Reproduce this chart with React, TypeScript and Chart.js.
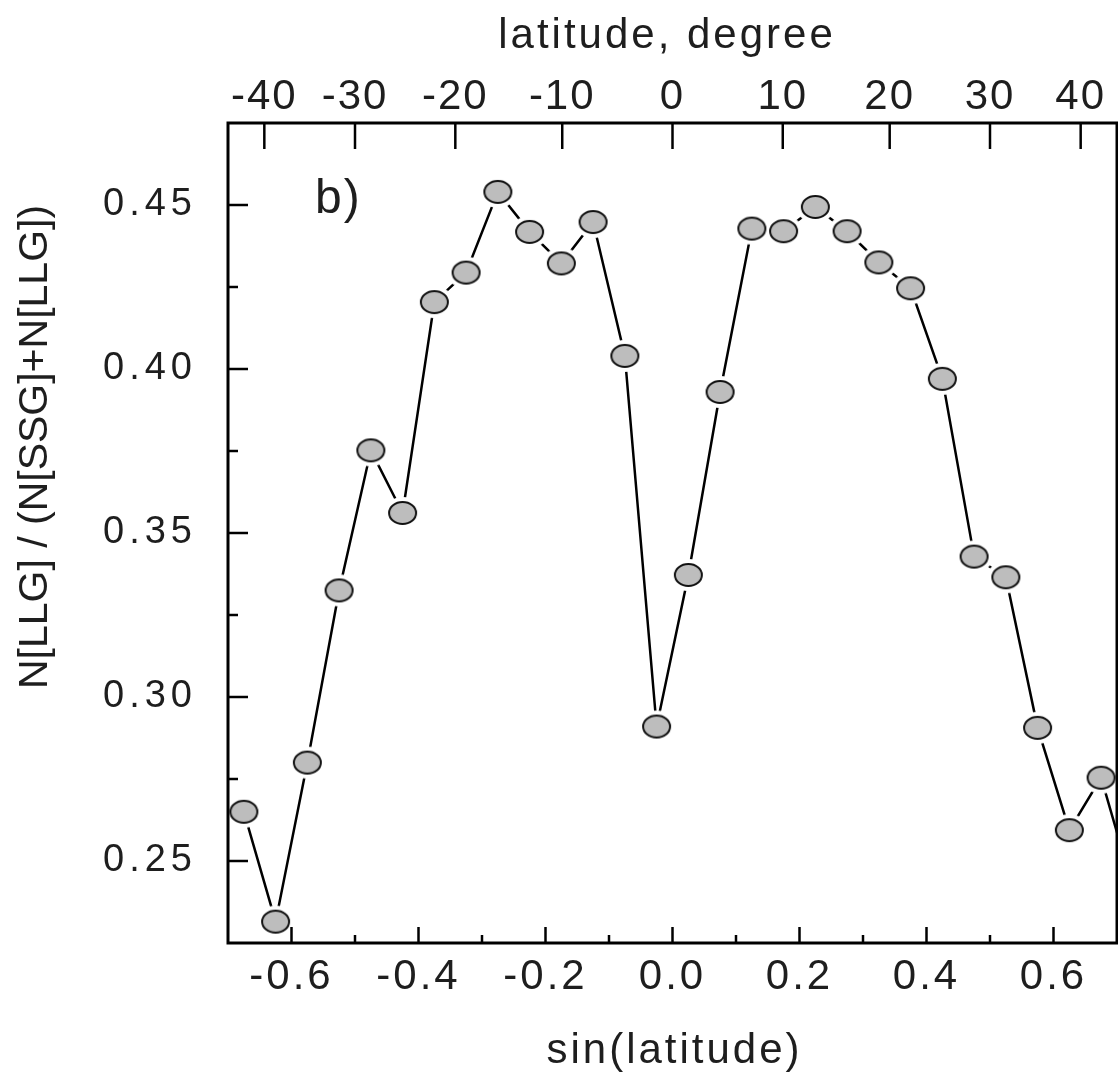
import React, { useEffect, useRef } from "react";
import { Chart, registerables } from "chart.js";

Chart.register(...registerables);

// ---- data ----
const sinLatitude = [
  -0.675, -0.625, -0.575, -0.525, -0.475, -0.425, -0.375, -0.325, -0.275, -0.225,
  -0.175, -0.125, -0.075, -0.025, 0.025, 0.075, 0.125, 0.175, 0.225, 0.275,
  0.325, 0.375, 0.425, 0.475, 0.525, 0.575, 0.625, 0.675, 0.725,
];
const llgFraction = [
  0.265, 0.2315, 0.28, 0.3325, 0.3752, 0.3561, 0.4204, 0.4294, 0.454, 0.4418,
  0.4322, 0.4448, 0.404, 0.291, 0.3372, 0.393, 0.4428, 0.442, 0.4494, 0.442,
  0.4325, 0.4246, 0.397, 0.3428, 0.3365, 0.2906, 0.2594, 0.2754, 0.242,
];
const sinTicks = [-0.6, -0.4, -0.2, 0.0, 0.2, 0.4, 0.6];
const sinMinorTicks = [-0.5, -0.3, -0.1, 0.1, 0.3, 0.5];
const latitudeTicks = [-40, -30, -20, -10, 0, 10, 20, 30, 40];
const ratioTicks = [0.25, 0.3, 0.35, 0.4, 0.45];
const ratioMinorTicks = [0.275, 0.325, 0.375, 0.425];
const xTitle = "sin(latitude)";
const topTitle = "latitude, degree";
const yTitle = "N[LLG] / (N[SSG]+N[LLG])";
const panelLabel = "b)";

const FONT = '"Liberation Sans", Arial, Helvetica, sans-serif';
const TEXT = "#1e1e1e";

const spacingByScale: Record<string, string> = { x: "3px", xTop: "2px", y: "5px" };

const tickSpacingPlugin = {
  id: "tickSpacing",
  beforeDraw(chart: any) {
    Object.values(chart.scales).forEach((scale: any) => {
      if (scale.__patched) return;
      const orig = scale.drawLabels;
      scale.drawLabels = function (area: any) {
        const ctx = this.ctx;
        const prev = ctx.letterSpacing;
        ctx.letterSpacing = spacingByScale[this.id] || "0px";
        orig.call(this, area);
        ctx.letterSpacing = prev || "0px";
      };
      scale.__patched = true;
    });
  },
};

const framePlugin = {
  id: "frame",
  afterDraw(chart: any) {
    const { ctx, chartArea: a, scales } = chart;
    ctx.save();
    ctx.strokeStyle = "#000";
    ctx.lineWidth = 3;
    ctx.strokeRect(a.left, a.top, a.right - a.left, a.bottom - a.top);
    ctx.lineWidth = 2.5;
    const tick = (x1: number, y1: number, x2: number, y2: number) => {
      ctx.beginPath();
      ctx.moveTo(x1, y1);
      ctx.lineTo(x2, y2);
      ctx.stroke();
    };
    sinTicks.forEach((v) => {
      const x = scales.x.getPixelForValue(v);
      tick(x, a.bottom, x, a.bottom - 16);
    });
    sinMinorTicks.forEach((v) => {
      const x = scales.x.getPixelForValue(v);
      tick(x, a.bottom, x, a.bottom - 8);
    });
    latitudeTicks.forEach((d) => {
      const x = scales.xTop.getPixelForValue(Math.sin((d * Math.PI) / 180));
      tick(x, a.top, x, a.top + 26);
    });
    ratioTicks.forEach((v) => {
      const y = scales.y.getPixelForValue(v);
      tick(a.left, y, a.left + 20, y);
    });
    ratioMinorTicks.forEach((v) => {
      const y = scales.y.getPixelForValue(v);
      tick(a.left, y, a.left + 10, y);
    });

    ctx.fillStyle = TEXT;
    ctx.textBaseline = "alphabetic";
    ctx.textAlign = "center";
    ctx.font = `42px ${FONT}`;
    ctx.letterSpacing = "3px";
    ctx.fillText(topTitle, 667, 48);
    ctx.fillText(xTitle, (a.left + a.right) / 2 + 2, 1063);

    ctx.textAlign = "left";
    ctx.font = `48px ${FONT}`;
    ctx.letterSpacing = "2px";
    ctx.fillText(panelLabel, 315, 213);

    ctx.letterSpacing = "0px";
    ctx.font = `41px ${FONT}`;
    ctx.textAlign = "center";
    ctx.translate(47, 447);
    ctx.rotate(-Math.PI / 2);
    ctx.fillText(yTitle, 0, 0);
    ctx.restore();
  },
};

export default function App() {
  const ref = useRef<HTMLCanvasElement>(null);

  useEffect(() => {
    document.body.style.margin = "0";
    const canvas = ref.current;
    if (!canvas) return;

    const marker = document.createElement("canvas");
    marker.width = 31;
    marker.height = 26;
    const m = marker.getContext("2d")!;
    m.beginPath();
    m.ellipse(15.5, 13, 13.5, 11, 0, 0, Math.PI * 2);
    m.fillStyle = "#bdbdbd";
    m.fill();
    m.lineWidth = 2;
    m.strokeStyle = "#111";
    m.stroke();

    const halo = document.createElement("canvas");
    halo.width = 40;
    halo.height = 34;
    const h = halo.getContext("2d")!;
    h.beginPath();
    h.ellipse(20, 17, 19, 16, 0, 0, Math.PI * 2);
    h.fillStyle = "#ffffff";
    h.fill();

    const points = sinLatitude.map((x, i) => ({ x, y: llgFraction[i] }));

    const tickFont = { family: FONT, size: 42 };

    const chart = new Chart(canvas, {
      type: "line",
      data: {
        datasets: [
          { data: points, showLine: false, pointStyle: marker as any, pointRadius: 12, order: 1, clip: 0 } as any,
          { data: points, showLine: false, pointStyle: halo as any, pointRadius: 17, order: 2, clip: 0 } as any,
          { data: points, borderColor: "#000", borderWidth: 2.5, pointRadius: 0, order: 3, clip: 0, tension: 0 } as any,
        ],
      },
      options: {
        responsive: false,
        maintainAspectRatio: false,
        animation: false,
        devicePixelRatio: 1,
        events: [],
        layout: { autoPadding: false, padding: { left: 0, right: 1, top: 0, bottom: 0 } },
        plugins: {
          legend: { display: false },
          tooltip: { enabled: false },
          title: { display: false },
        },
        scales: {
          x: {
            type: "linear",
            position: "bottom",
            min: -0.7,
            max: 0.7,
            grid: { display: false },
            border: { display: false },
            afterBuildTicks: (s: any) => {
              s.ticks = sinTicks.map((v) => ({ value: v }));
            },
            ticks: {
              callback: (v: any) => Number(v).toFixed(1),
              font: tickFont,
              color: TEXT,
              padding: 1,
              maxRotation: 0,
              autoSkip: false,
            },
            afterFit: (s: any) => {
              s.height = 129;
            },
          },
          xTop: {
            type: "linear",
            position: "top",
            min: -0.7,
            max: 0.7,
            grid: { display: false },
            border: { display: false },
            afterBuildTicks: (s: any) => {
              s.ticks = latitudeTicks.map((d) => ({ value: Math.sin((d * Math.PI) / 180) }));
            },
            ticks: {
              callback: (_v: any, i: number) => String(latitudeTicks[i]),
              font: tickFont,
              color: TEXT,
              padding: -8,
              maxRotation: 0,
              autoSkip: false,
            },
            afterFit: (s: any) => {
              s.height = 123;
            },
          },
          y: {
            type: "linear",
            position: "left",
            min: 0.225,
            max: 0.475,
            grid: { display: false },
            border: { display: false },
            afterBuildTicks: (s: any) => {
              s.ticks = ratioTicks.map((v) => ({ value: v }));
            },
            ticks: {
              callback: (v: any) => Number(v).toFixed(2),
              font: { family: FONT, size: 38 },
              color: TEXT,
              padding: 23,
              autoSkip: false,
            },
            afterFit: (s: any) => {
              s.width = 228;
            },
          },
        } as any,
      },
      plugins: [tickSpacingPlugin, framePlugin],
    });

    return () => chart.destroy();
  }, []);

  return (
    <div style={{ position: "absolute", left: 0, top: 0, width: 1118, height: 1072, background: "#fff" }}>
      <canvas ref={ref} width={1118} height={1072} style={{ display: "block", width: 1118, height: 1072 }} />
    </div>
  );
}
